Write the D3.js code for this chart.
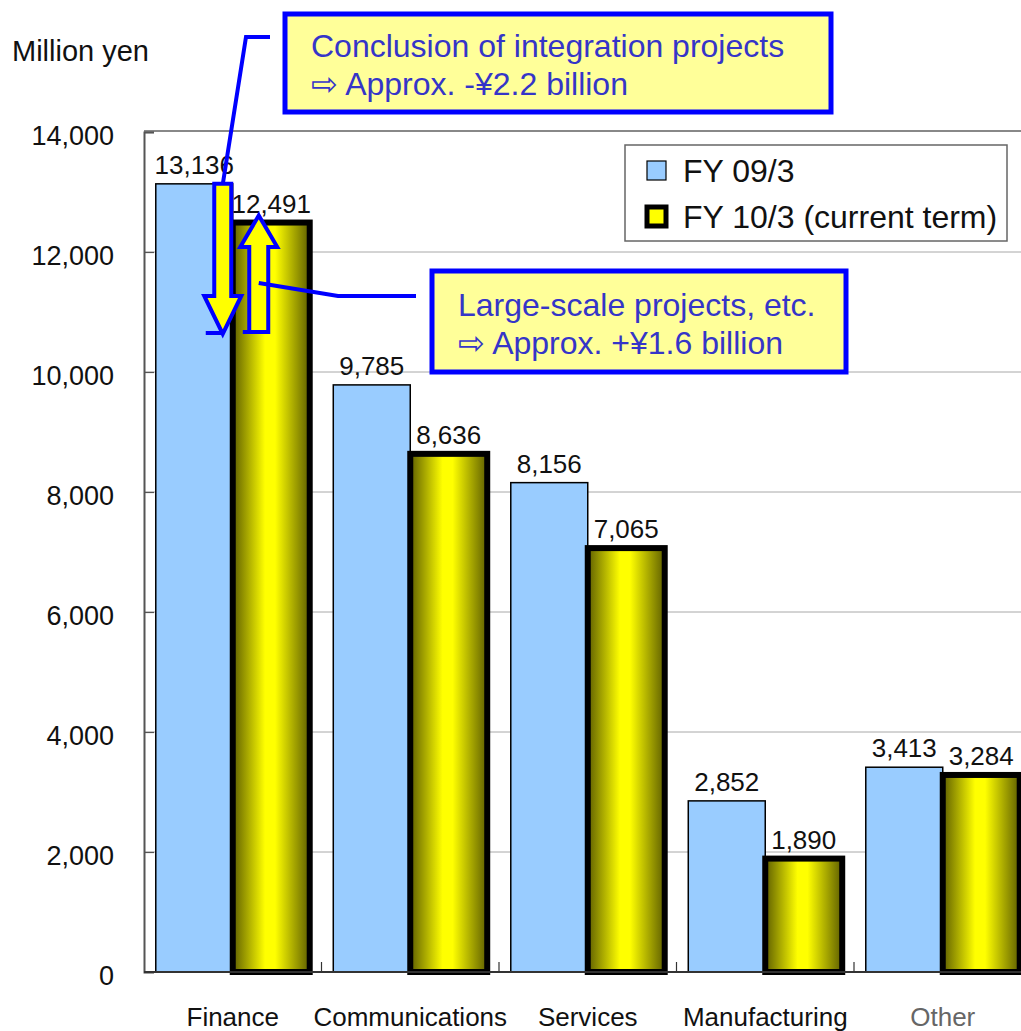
<!DOCTYPE html>
<html>
<head>
<meta charset="utf-8">
<script src="https://cdn.jsdelivr.net/npm/d3@7"></script>
<style>
  body { margin: 0; background: #fff; }
  text { font-family: "Liberation Sans", Arial, sans-serif; }
</style>
</head>
<body>
<div class="chart"></div>
<script>
// ======= GROUPED COLUMN CHART: sales by industry ===========

const categories = ['Finance', 'Communications', 'Services', 'Manufacturing', 'Other']
const fy09 = [13136, 9785, 8156, 2852, 3413]
const fy10 = [12491, 8636, 7065, 1890, 3284]
const seriesNames = ['FY 09/3', 'FY 10/3 (current term)']
const yTicks = [0, 2000, 4000, 6000, 8000, 10000, 12000, 14000]
const yUnit = 'Million yen'
const note1 = ['Conclusion of integration projects', '\u21E8 Approx. -\u00A52.2 billion']
const note2 = ['Large-scale projects, etc.', '\u21E8 Approx. +\u00A51.6 billion']

const W = 1021
const H = 1031
const plotLeft = 144
const plotBottom = 972
const plotTop = 132

const svg = d3.select('.chart')
  .append('svg')
    .attr('width', W)
    .attr('height', H)

// gradient for the current-term bars
const grad = svg.append('defs').append('linearGradient')
    .attr('id', 'yg')
    .attr('x1', '0%').attr('x2', '100%').attr('y1', '0%').attr('y2', '0%')
grad.append('stop').attr('offset', '0%').attr('stop-color', '#5e5e00')
grad.append('stop').attr('offset', '42%').attr('stop-color', '#ffff00')
grad.append('stop').attr('offset', '55%').attr('stop-color', '#ffff00')
grad.append('stop').attr('offset', '100%').attr('stop-color', '#5e5e00')

const yScale = d3.scaleLinear()
  .domain([0, 14000])
  .range([plotBottom, plotTop])

const xScale = d3.scaleBand()
  .domain(categories)
  .range([plotLeft, plotLeft + 887.5])

const xSub = d3.scaleBand()
  .domain(['fy09', 'fy10'])
  .range([0, xScale.bandwidth()])
  .paddingOuter(0.153)
  .paddingInner(0)

// grid lines
svg.append('g')
  .selectAll('line')
  .data(yTicks.slice(1, -1))
  .enter()
  .append('line')
    .attr('x1', plotLeft).attr('x2', W)
    .attr('y1', d => yScale(d)).attr('y2', d => yScale(d))
    .attr('stroke', '#a8a8a8')
    .attr('stroke-width', 1)

// top border of the plot
svg.append('line')
  .attr('x1', plotLeft).attr('x2', W)
  .attr('y1', yScale(14000) - 1).attr('y2', yScale(14000) - 1)
  .attr('stroke', '#888')
  .attr('stroke-width', 2)

// y axis
const yAxis = d3.axisLeft(yScale)
  .tickValues(yTicks)
  .tickFormat(d3.format(','))
  .tickSize(-10)
  .tickPadding(30)
const gy = svg.append('g')
  .attr('transform', `translate(${plotLeft}, 0)`)
  .call(yAxis)
gy.select('.domain').attr('stroke', '#555').attr('stroke-width', 2)
gy.selectAll('.tick line').attr('stroke', '#555').attr('stroke-width', 1.2)
gy.selectAll('text')
  .style('font-family', '"Liberation Sans", Arial, sans-serif')
  .style('font-size', '27px')
  .attr('dy', '0.45em')
  .attr('fill', '#111')

// x axis (labels only, boundary ticks drawn below)
const xAxis = d3.axisBottom(xScale).tickSize(0).tickPadding(36)
const gx = svg.append('g')
  .attr('transform', `translate(0, ${plotBottom})`)
  .call(xAxis)
gx.select('.domain').remove()
gx.selectAll('text')
  .style('font-family', '"Liberation Sans", Arial, sans-serif')
  .style('font-size', '26px')
  .attr('fill', d => d === 'Other' ? '#666' : '#111')

// bars
const rows = categories.map((c, i) => ({ cat: c, a: fy09[i], b: fy10[i] }))

svg.append('g')
  .selectAll('rect')
  .data(rows)
  .enter()
  .append('rect')
    .attr('x', d => xScale(d.cat) + xSub('fy09'))
    .attr('y', d => yScale(d.a))
    .attr('width', xSub.bandwidth())
    .attr('height', d => plotBottom - yScale(d.a))
    .attr('fill', '#99ccff')
    .attr('stroke', '#000')
    .attr('stroke-width', 1.5)

svg.append('g')
  .selectAll('rect')
  .data(rows)
  .enter()
  .append('rect')
    .attr('x', d => xScale(d.cat) + xSub('fy10'))
    .attr('y', d => yScale(d.b))
    .attr('width', xSub.bandwidth())
    .attr('height', d => plotBottom - yScale(d.b))
    .attr('fill', 'url(#yg)')
    .attr('stroke', '#000')
    .attr('stroke-width', 6)

// bottom axis line + category boundary ticks
svg.append('line')
  .attr('x1', plotLeft).attr('x2', W)
  .attr('y1', plotBottom).attr('y2', plotBottom)
  .attr('stroke', '#333')
  .attr('stroke-width', 2)
svg.append('g')
  .selectAll('line')
  .data(categories.slice(1))
  .enter()
  .append('line')
    .attr('x1', d => xScale(d)).attr('x2', d => xScale(d))
    .attr('y1', plotBottom).attr('y2', plotBottom - 10)
    .attr('stroke', '#333')
    .attr('stroke-width', 1.2)

// value labels
const fmt = d3.format(',')
const labels = svg.append('g')
  .style('font-size', '26px')
  .attr('text-anchor', 'middle')
  .attr('fill', '#111')
labels.selectAll('.la')
  .data(rows)
  .enter()
  .append('text')
    .attr('x', d => xScale(d.cat) + xSub('fy09') + xSub.bandwidth() / 2)
    .attr('y', d => yScale(d.a) - 10)
    .text(d => fmt(d.a))
labels.selectAll('.lb')
  .data(rows)
  .enter()
  .append('text')
    .attr('x', d => xScale(d.cat) + xSub('fy10') + xSub.bandwidth() / 2)
    .attr('y', d => yScale(d.b) - 10)
    .text(d => fmt(d.b))

// unit label
svg.append('text')
  .attr('x', 12).attr('y', 61)
  .style('font-size', '29px')
  .attr('fill', '#111')
  .text(yUnit)

// legend
const lg = svg.append('g').attr('transform', 'translate(625, 145)')
lg.append('rect')
  .attr('width', 382).attr('height', 96)
  .attr('fill', '#fff')
  .attr('stroke', '#666')
  .attr('stroke-width', 1.5)
lg.append('rect')
  .attr('x', 22).attr('y', 16).attr('width', 19).attr('height', 19)
  .attr('fill', '#99ccff').attr('stroke', '#000').attr('stroke-width', 1.2)
lg.append('rect')
  .attr('x', 22).attr('y', 62).attr('width', 19).attr('height', 19)
  .attr('fill', '#ffff00').attr('stroke', '#000').attr('stroke-width', 5)
lg.selectAll('.lt')
  .data(seriesNames)
  .enter()
  .append('text')
    .attr('x', 58)
    .attr('y', (d, i) => 37 + i * 46)
    .style('font-size', '32px')
    .attr('fill', '#111')
    .text(d => d)

// ----- annotations -----
const blue = '#0000ff'
const fx = xScale('Finance')
const downX = fx + xSub('fy09') + xSub.bandwidth() - 10
const upX = fx + xSub('fy10') + 26

// connector lines
svg.append('polyline')
  .attr('points', `270,37 246,37 ${downX - 2},197`)
  .attr('fill', 'none').attr('stroke', blue).attr('stroke-width', 4)

// down arrow (from FY09 value)
const dTop = yScale(fy09[0])
const dTip = 334
const down = [
  [downX - 8.5, dTop], [downX + 8.5, dTop], [downX + 8.5, 296],
  [downX + 18.5, 296], [downX, dTip], [downX - 18.5, 296], [downX - 8.5, 296]
]
svg.append('polygon')
  .attr('points', down.map(p => p.join(',')).join(' '))
  .attr('fill', '#ffff00').attr('stroke', blue).attr('stroke-width', 4)
svg.append('line')
  .attr('x1', downX - 17).attr('x2', downX).attr('y1', dTip - 1).attr('y2', dTip - 1)
  .attr('stroke', blue).attr('stroke-width', 4)

// up arrow (to FY10 value)
const uTip = yScale(fy10[0]) - 7
const up = [
  [upX - 9.5, 332], [upX + 9.5, 332], [upX + 9.5, 247],
  [upX + 18.5, 247], [upX, uTip], [upX - 18.5, 247], [upX - 9.5, 247]
]
svg.append('polygon')
  .attr('points', up.map(p => p.join(',')).join(' '))
  .attr('fill', '#ffff00').attr('stroke', blue).attr('stroke-width', 4)
svg.append('line')
  .attr('x1', upX - 16).attr('x2', upX - 9.5).attr('y1', 332).attr('y2', 332)
  .attr('stroke', blue).attr('stroke-width', 4)

svg.append('polyline')
  .attr('points', `${upX},283 338,296 416,296`)
  .attr('fill', 'none').attr('stroke', blue).attr('stroke-width', 4)

// callout boxes
function callout(x, y, w, h, lines, tx, ty0) {
  const g = svg.append('g')
  g.append('rect')
    .attr('x', x).attr('y', y).attr('width', w).attr('height', h)
    .attr('fill', '#ffff99')
    .attr('stroke', blue)
    .attr('stroke-width', 5)
  g.selectAll('text')
    .data(lines)
    .enter()
    .append('text')
      .attr('x', tx)
      .attr('y', (d, i) => ty0 + i * 38)
      .style('font-size', '32px')
      .attr('fill', '#3535c8')
      .text(d => d)
}
callout(285, 14, 546, 98, note1, 311, 57)
callout(432, 271, 414, 101, note2, 458, 316)
</script>
</body>
</html>
